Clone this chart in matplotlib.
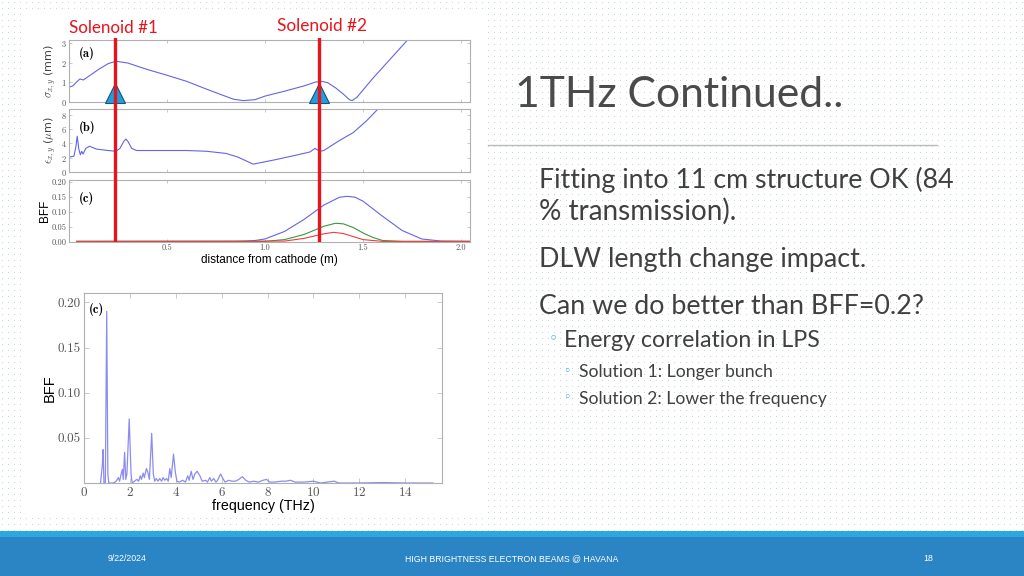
import numpy as np
import matplotlib
matplotlib.use('Agg')
import matplotlib.pyplot as plt
from matplotlib.patches import Rectangle

W, H = 1024, 576

# ---------------- data ----------------
sol_pos = [0.235, 1.276]
sol_labels = ['Solenoid #1', 'Solenoid #2']

sig_x = [0.0, 0.02, 0.04, 0.056, 0.073, 0.098, 0.15, 0.20, 0.24, 0.30, 0.40, 0.50, 0.60, 0.70,
         0.78, 0.84, 0.89, 0.95, 1.00, 1.10, 1.20, 1.26, 1.29, 1.32, 1.36, 1.40, 1.43, 1.445,
         1.47, 1.55, 1.65, 1.75]
sig_y = [0.75, 0.82, 1.03, 1.17, 1.12, 1.29, 1.65, 1.95, 2.07, 1.98, 1.65, 1.36, 1.05, 0.66,
         0.36, 0.14, 0.07, 0.12, 0.30, 0.55, 0.82, 1.02, 1.05, 0.98, 0.72, 0.40, 0.12, 0.07,
         0.25, 1.20, 2.30, 3.40]

emit_x = [0.0, 0.025, 0.035, 0.042, 0.05, 0.058, 0.065, 0.072, 0.085, 0.105, 0.14, 0.20, 0.24,
          0.26, 0.28, 0.29, 0.30, 0.32, 0.345, 0.45, 0.60, 0.70, 0.80, 0.86, 0.94, 1.05, 1.15,
          1.23, 1.255, 1.28, 1.30, 1.38, 1.45, 1.52, 1.58]
emit_y = [2.1, 2.2, 3.5, 5.0, 3.2, 2.4, 2.9, 2.5, 3.3, 3.6, 3.2, 3.0, 2.9, 3.3, 4.3, 4.6, 4.3,
          3.3, 3.0, 3.0, 3.0, 2.9, 2.6, 2.1, 1.1, 1.7, 2.3, 2.8, 3.3, 2.9, 3.0, 4.4, 5.5, 7.2, 8.9]

bff_blue_x = [0.04, 0.5, 0.85, 0.9, 0.95, 1.0, 1.1, 1.2, 1.3, 1.38, 1.42, 1.46, 1.5, 1.6, 1.7,
              1.8, 1.9, 2.05]
bff_blue_y = [0.002, 0.002, 0.002, 0.003, 0.005, 0.010, 0.035, 0.075, 0.122, 0.148, 0.151,
              0.148, 0.135, 0.085, 0.038, 0.010, 0.003, 0.002]
bff_green_x = [0.04, 1.0, 1.1, 1.2, 1.3, 1.36, 1.4, 1.45, 1.5, 1.55, 1.6, 1.7, 2.05]
bff_green_y = [0.002, 0.002, 0.008, 0.025, 0.052, 0.062, 0.060, 0.048, 0.030, 0.015, 0.005,
               0.002, 0.002]
bff_red_x = [0.04, 1.1, 1.2, 1.3, 1.35, 1.4, 1.45, 1.5, 1.6, 2.05]
bff_red_y = [0.002, 0.003, 0.012, 0.027, 0.032, 0.028, 0.018, 0.008, 0.002, 0.002]

freq = [0.72, 0.80, 0.83, 0.87, 0.93, 0.99, 1.04, 1.08, 1.30, 1.40, 1.50, 1.55, 1.62, 1.67,
        1.71, 1.77, 1.82, 1.87, 1.97, 2.05, 2.10, 2.20, 2.30, 2.38, 2.45, 2.50, 2.58, 2.63,
        2.72, 2.78, 2.85, 2.95, 3.02, 3.08, 3.15, 3.22, 3.30, 3.38, 3.45, 3.52, 3.60, 3.67,
        3.74, 3.80, 3.90, 3.98, 4.05, 4.15, 4.30, 4.42, 4.52, 4.58, 4.67, 4.75, 4.83, 4.93,
        5.05, 5.15, 5.30, 5.38, 5.48, 5.55, 5.65, 5.75, 5.82, 5.95, 6.05, 6.15, 6.30, 6.45,
        6.60, 6.75, 6.90, 7.05, 7.20, 7.40, 7.60, 7.80, 7.95, 8.10, 8.30, 8.60, 8.80, 9.00,
        9.20, 9.60, 10.0, 10.3, 10.9, 11.1, 12.0, 13.0, 14.0, 15.2]
bff_f = [0.0, 0.020, 0.037, 0.0, 0.0, 0.190, 0.010, 0.0, 0.0, 0.002, 0.006, 0.002, 0.010, 0.015,
         0.004, 0.034, 0.004, 0.010, 0.071, 0.010, 0.0, 0.002, 0.004, 0.002, 0.008, 0.004,
         0.011, 0.006, 0.016, 0.012, 0.004, 0.055, 0.010, 0.002, 0.005, 0.002, 0.005, 0.002,
         0.006, 0.003, 0.005, 0.002, 0.016, 0.006, 0.032, 0.012, 0.002, 0.001, 0.003, 0.001,
         0.008, 0.003, 0.013, 0.004, 0.010, 0.013, 0.008, 0.002, 0.003, 0.001, 0.006, 0.002,
         0.005, 0.001, 0.003, 0.010, 0.005, 0.001, 0.003, 0.002, 0.002, 0.004, 0.007, 0.003,
         0.001, 0.002, 0.001, 0.003, 0.004, 0.001, 0.001, 0.002, 0.002, 0.003, 0.001, 0.001,
         0.002, 0.0, 0.002, 0.0, 0.0, 0.0005, 0.0, 0.0]

title = '1THz Continued..'
body = [
    ('Fitting into 11 cm structure OK (84', 0, 539, 955, 188),
    ('% transmission).', 0, 539, 737, 220),
    ('DLW length change impact.', 0, 539, 868, 267),
    ('Can we do better than BFF=0.2?', 0, 539, 925, 314),
    ('Energy correlation in LPS', 1, 564, 820, 347),
    ('Solution 1: Longer bunch', 2, 579, 773, 377),
    ('Solution 2: Lower the frequency', 2, 579, 828, 404),
]
footer = [('9/22/2024', 127), ('HIGH BRIGHTNESS ELECTRON BEAMS @ HAVANA', 512), ('18', 928)]

# ---------------- style ----------------
plt.rcParams['mathtext.fontset'] = 'cm'
plt.rcParams['axes.formatter.use_mathtext'] = True
SANS = ['Lato', 'DejaVu Sans']
TXT = '#404040'
LINE = '#6464e6'
RED = '#e8141c'

fig = plt.figure(figsize=(W / 100, H / 100), dpi=100)
fig.patch.set_facecolor('white')


def box(x0, y0, x1, y1):
    return [x0 / W, 1 - y1 / H, (x1 - x0) / W, (y1 - y0) / H]


# background with dot pattern
bg = fig.add_axes([0, 0, 1, 1], zorder=-10)
bg.set_xlim(0, W)
bg.set_ylim(H, 0)
bg.axis('off')
img = np.ones((H, W, 3))
dot = np.array([0.76, 0.85, 0.87])
img[2::6, 2::6] = dot
bg.imshow(img, extent=(0, W, H, 0), interpolation='nearest', aspect='auto')
bg.add_patch(Rectangle((25, 13), 463, 502, facecolor='white', edgecolor='none'))
# footer
bg.add_patch(Rectangle((0, 531), W, 6, facecolor='#2aa8e0', edgecolor='none'))
bg.add_patch(Rectangle((0, 537), W, 39, facecolor='#2b84c4', edgecolor='none'))
# title rule
bg.plot([488, 937], [145, 145], color='#b8bcbf', lw=1)

renderer = fig.canvas.get_renderer()


def fit_text(x, y, s, width, size0=12, ha='left', **kw):
    t = bg.text(x, y, s, fontsize=size0, ha=ha, va='baseline', **kw)
    bb = t.get_window_extent(renderer=renderer)
    t.set_fontsize(size0 * width / bb.width)
    return t


fit_text(515, 107, title, 328, size0=30, color='#4a4a4a', family=SANS, fontweight='normal')
for s, lvl, x0, x1, yb in body:
    fit_text(x0, yb, s, x1 - x0, size0=16, color=TXT, family=SANS)
    if lvl == 1:
        bg.text(553, yb - 8, '\u25e6', fontsize=11, color='#2ba5d8', ha='center', va='center',
                family=['DejaVu Sans'])
    elif lvl == 2:
        bg.text(567, yb - 6, '\u25e6', fontsize=9, color='#2ba5d8', ha='center', va='center',
                family=['DejaVu Sans'])
for s, xc in footer:
    bg.text(xc, 561, s, fontsize=6.3, ha='center', va='baseline', color='white',
            family=['Liberation Sans'])

# solenoid labels
fit_text(113.5, 33, sol_labels[0], 89, size0=12, ha='center', color=RED, family=SANS)
fit_text(322, 30.7, sol_labels[1], 90, size0=12, ha='center', color=RED, family=SANS)


def style(ax, labelsize=6):
    for sp in ax.spines.values():
        sp.set_color('#b0b0b0')
        sp.set_linewidth(0.8)
    ax.tick_params(direction='in', top=True, right=True, length=2.5, width=0.6,
                   color='#c0c0c0', labelsize=labelsize, labelcolor='#555555', pad=1.5)
    for lab in ax.get_xticklabels() + ax.get_yticklabels():
        lab.set_family('cmr10')


XLIM = (0, 2.046)
# (a)
axa = fig.add_axes(box(69, 40, 470, 102))
axa.plot(sig_x, sig_y, color=LINE, lw=0.8)
axa.set_xlim(*XLIM)
axa.set_ylim(0, 3.15)
axa.set_yticks([0, 1, 2, 3])
axa.set_xticks([0.5, 1.0, 1.5, 2.0])
axa.set_xticklabels([])
style(axa)
axa.plot(sol_pos, [0.46, 0.46], linestyle='none', marker='^', markersize=15,
         markerfacecolor='#1fa0dc', markeredgecolor='#1f4e79', markeredgewidth=0.8, clip_on=False,
         zorder=3)
axa.set_ylabel(r'$\sigma_{x,y}$ (mm)', fontsize=8, color='#444444', labelpad=2)
axa.text(0.025, 0.72, '(a)', transform=axa.transAxes, fontsize=9, family='cmb10', fontweight='bold')

# (b)
axb = fig.add_axes(box(69, 109, 470, 172))
axb.plot(emit_x, emit_y, color=LINE, lw=0.8)
axb.set_xlim(*XLIM)
axb.set_ylim(0, 8.8)
axb.set_yticks([0, 2, 4, 6, 8])
axb.set_xticks([0.5, 1.0, 1.5, 2.0])
axb.set_xticklabels([])
style(axb)
axb.set_ylabel(r'$\epsilon_{x,y}$ ($\mu$m)', fontsize=8, color='#444444', labelpad=2)
axb.text(0.025, 0.65, '(b)', transform=axb.transAxes, fontsize=9, family='cmb10', fontweight='bold')

# (c)
axc = fig.add_axes(box(69, 180, 470, 242))
axc.plot(bff_blue_x, bff_blue_y, color=LINE, lw=0.8)
axc.plot(bff_green_x, bff_green_y, color='#3c963c', lw=0.8)
axc.plot(bff_red_x, bff_red_y, color='#f03c3c', lw=0.8)
axc.set_xlim(*XLIM)
axc.set_ylim(0, 0.205)
axc.set_yticks([0, 0.05, 0.10, 0.15, 0.20])
axc.set_yticklabels(['0.00', '0.05', '0.10', '0.15', '0.20'])
axc.set_xticks([0.5, 1.0, 1.5, 2.0])
axc.set_xticklabels(['0.5', '1.0', '1.5', '2.0'])
style(axc)
axc.set_ylabel('BFF', fontsize=8.5, family=['Liberation Sans'], labelpad=1)
axc.set_xlabel('distance from cathode (m)', fontsize=8.5, family=['Liberation Sans'], labelpad=1)
axc.text(0.025, 0.65, '(c)', transform=axc.transAxes, fontsize=9, family='cmb10', fontweight='bold')

# red solenoid lines overlay
ov = fig.add_axes(box(69, 38, 470, 242), zorder=5)
ov.set_xlim(*XLIM)
ov.set_ylim(0, 1)
ov.axis('off')
for p in sol_pos:
    ov.axvline(p, color=RED, lw=2.4)

# spectrum
axs = fig.add_axes(box(84, 293, 442, 483))
axs.plot(freq, bff_f, color='#8c8cf0', lw=0.9)
axs.set_xlim(0, 15.6)
axs.set_ylim(0, 0.2105)
axs.set_xticks(np.arange(0, 15, 2))
axs.set_yticks([0.05, 0.10, 0.15, 0.20])
axs.set_yticklabels(['0.05', '0.10', '0.15', '0.20'])
style(axs, labelsize=9.4)
axs.tick_params(length=3.5, pad=2.5)
axs.set_ylabel('BFF', fontsize=10.5, family=['Liberation Sans'], labelpad=0.5)
axs.set_xlabel('frequency (THz)', fontsize=10.3, family=['Liberation Sans'], labelpad=0)
axs.text(0.015, 0.895, '(c)', transform=axs.transAxes, fontsize=9, family='cmb10', fontweight='bold')

fig.savefig('out.png', dpi=100)
